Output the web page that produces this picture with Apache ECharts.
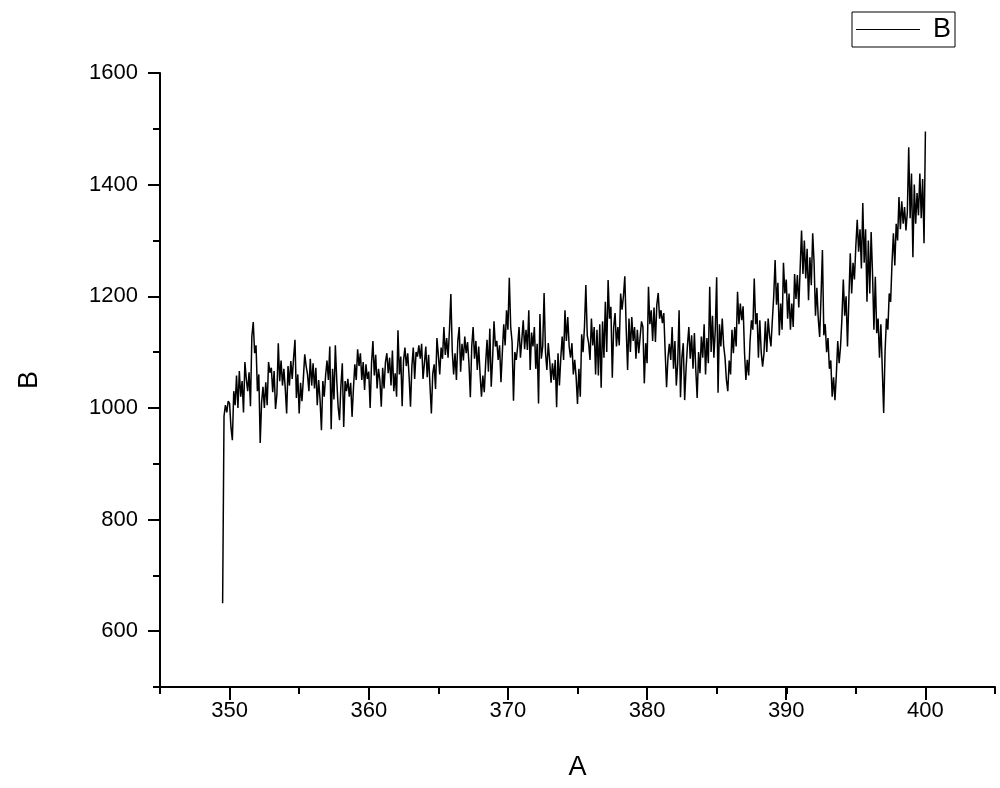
<!DOCTYPE html>
<html>
<head>
<meta charset="utf-8">
<script src="https://cdn.jsdelivr.net/npm/echarts@6/dist/echarts.min.js"></script>
<style>
html,body{margin:0;padding:0;background:#fff;}
#chart{width:1000px;height:788px;}
</style>
</head>
<body>
<div id="chart"></div>
<script>
// Sampling grid of the spectrum (A) and readings (B)
const xStart = 349.5;
const xStep = 0.1;
const seriesName = 'B';
const xName = 'A';
const yName = 'B';
const xTickLabels = [350, 360, 370, 380, 390, 400];
const yTickLabels = [600, 800, 1000, 1200, 1400, 1600];

const bValues = [
  // 349.5 - 349.9
  650, 985, 1005, 992, 1012,
  // 350
  1008, 965, 942, 1030, 1005, 1058, 1000, 1066, 1020, 1048,
  // 351
  992, 1082, 1052, 1030, 1064, 1003, 1128, 1154, 1098, 1112,
  // 352
  1030, 1060, 937, 1010, 1038, 1000, 1046, 1005, 1082, 1063,
  // 353
  1072, 1028, 1066, 998, 1024, 1116, 1048, 1085, 1040, 1070,
  // 354
  1035, 990, 1075, 1040, 1084, 1052, 1090, 1122, 1018, 1060,
  // 355
  990, 1045, 1012, 1052, 1096, 1075, 1060, 1030, 1088, 1040,
  // 356
  1080, 1035, 1072, 1005, 1050, 1015, 960, 1048, 1020, 1058,
  // 357
  1085, 1050, 1110, 962, 1070, 1015, 1112, 1050, 1002, 978,
  // 358
  1040, 1080, 966, 1048, 1030, 1052, 1020, 1045, 984, 1035,
  // 359
  1078, 1050, 1105, 1075, 1098, 1050, 1082, 1032, 1078, 1052,
  // 360
  1065, 1000, 1080, 1120, 1058, 1095, 1035, 1070, 1050, 1002,
  // 361
  1072, 1035, 1082, 1098, 1062, 1090, 1040, 1103, 1030, 1062,
  // 362
  1020, 1139, 1060, 1092, 1003, 1085, 1108, 1075, 1098, 1056,
  // 363
  1002, 1075, 1108, 1052, 1100, 1092, 1112, 1088, 1115, 1052,
  // 364
  1080, 1110, 1055, 1095, 1040, 990, 1062, 1078, 1034, 1125,
  // 365
  1095, 1060, 1108, 1088, 1145, 1095, 1125, 1090, 1140, 1204,
  // 366
  1102, 1060, 1098, 1050, 1120, 1145, 1065, 1115, 1085, 1128,
  // 367
  1098, 1118, 1080, 1019, 1110, 1145, 1088, 1120, 1068, 1110,
  // 368
  1060, 1020, 1058, 1028, 1080, 1122, 1065, 1142, 1038, 1088,
  // 369
  1155, 1110, 1120, 1086, 1112, 1046, 1100, 1150, 1112, 1175,
  // 370
  1140, 1233, 1145, 1118, 1013, 1100, 1086, 1110, 1145, 1090,
  // 371
  1122, 1157, 1105, 1140, 1104, 1175, 1068, 1135, 1110, 1145,
  // 372
  1070, 1115, 1008, 1168, 1088, 1110, 1206, 1100, 1068, 1116,
  // 373
  1085, 1045, 1080, 1050, 1086, 1001, 1098, 1040, 1090, 1128,
  // 374
  1086, 1175, 1120, 1163, 1110, 1090, 1116, 1060, 1086, 1056,
  // 375
  1007, 1070, 1020, 1132, 1100, 1145, 1220, 1130, 1116, 1086,
  // 376
  1160, 1112, 1145, 1060, 1140, 1058, 1150, 1036, 1155, 1090,
  // 377
  1190, 1100, 1229, 1160, 1181, 1054, 1145, 1170, 1110, 1145,
  // 378
  1112, 1205, 1176, 1200, 1236, 1142, 1068, 1160, 1100, 1163,
  // 379
  1120, 1145, 1088, 1140, 1098, 1127, 1155, 1145, 1044, 1116,
  // 380
  1080, 1217, 1150, 1175, 1120, 1180, 1118, 1185, 1206, 1160,
  // 381
  1175, 1152, 1170, 1100, 1037, 1090, 1115, 1086, 1145, 1070,
  // 382
  1120, 1040, 1080, 1175, 1019, 1090, 1116, 1014, 1070, 1112,
  // 383
  1145, 1088, 1130, 1070, 1134, 1068, 1018, 1100, 1062, 1128,
  // 384
  1090, 1150, 1060, 1125, 1080, 1217, 1100, 1165, 1090, 1140,
  // 385
  1234, 1027, 1150, 1110, 1160, 1112, 1090, 1050, 1030, 1085,
  // 386
  1060, 1140, 1098, 1145, 1110, 1208, 1150, 1187, 1157, 1182,
  // 387
  1100, 1050, 1086, 1058, 1120, 1157, 1140, 1232, 1150, 1170,
  // 388
  1090, 1157, 1100, 1074, 1098, 1155, 1100, 1160, 1130, 1110,
  // 389
  1157, 1200, 1265, 1185, 1224, 1130, 1187, 1140, 1260, 1205,
  // 390
  1230, 1160, 1205, 1140, 1187, 1145, 1240, 1195, 1238, 1180,
  // 391
  1250, 1318, 1240, 1300, 1232, 1285, 1193, 1270, 1220, 1313,
  // 392
  1260, 1165, 1215, 1160, 1127, 1200, 1283, 1130, 1150, 1100,
  // 393
  1125, 1070, 1085, 1020, 1055, 1014, 1060, 1120, 1080, 1110,
  // 394
  1160, 1230, 1165, 1200, 1110, 1195, 1277, 1205, 1260, 1230,
  // 395
  1290, 1337, 1280, 1320, 1250, 1367, 1260, 1320, 1190, 1300,
  // 396
  1205, 1315, 1240, 1140, 1235, 1134, 1160, 1090, 1150, 1070,
  // 397
  991, 1100, 1160, 1140, 1205, 1190, 1260, 1313, 1255, 1330,
  // 398
  1300, 1378, 1320, 1370, 1330, 1360, 1318, 1350, 1467, 1340,
  // 399
  1420, 1270, 1400, 1330, 1385, 1345, 1420, 1340, 1410, 1295,
  // 400
  1495
];

const seriesData = bValues.map((v, i) => [+(xStart + i * xStep).toFixed(2), v]);

const chart = echarts.init(document.getElementById('chart'), null, {renderer: 'canvas'});
const font = 'Liberation Sans, Arial, sans-serif';
const black = '#000';
const plain = v => String(v);

chart.setOption({
  animation: false,
  backgroundColor: '#fff',
  legend: {
    data: [seriesName],
    left: 852,
    top: 12,
    orient: 'horizontal',
    borderColor: black,
    borderWidth: 1,
    padding: [4, 4, 4, 4],
    icon: 'rect',
    itemWidth: 64,
    itemHeight: 1.2,
    itemGap: 0,
    itemStyle: {color: black},
    textStyle: {fontFamily: font, fontSize: 27, color: black, padding: [0, 0, 0, 8]}
  },
  grid: [
    {left: 160, right: 5, top: 73, bottom: 101, outerBoundsMode: 'none', containLabel: false},
    {left: 229.6, right: 74.6, top: 73, bottom: 156.8, outerBoundsMode: 'none', containLabel: false}
  ],
  xAxis: [
    {
      type: 'value', gridIndex: 0, min: 345, max: 405, interval: 5,
      name: xName, nameLocation: 'middle', nameGap: 67,
      nameTextStyle: {fontFamily: font, fontSize: 27, color: black},
      axisLine: {show: true, lineStyle: {color: black, width: 2}},
      axisTick: {show: true, length: 7, inside: false, lineStyle: {color: black, width: 2}},
      axisLabel: {show: false},
      splitLine: {show: false}
    },
    {
      type: 'value', gridIndex: 1, min: xTickLabels[0], max: xTickLabels[xTickLabels.length - 1], interval: 10,
      offset: 55.8,
      axisLine: {show: false},
      axisTick: {show: true, length: 13, lineStyle: {color: black, width: 2}},
      axisLabel: {show: true, margin: 13, fontFamily: font, fontSize: 22, color: black, formatter: plain},
      splitLine: {show: false}
    }
  ],
  yAxis: [
    {
      type: 'value', gridIndex: 0, min: 500, max: 1600, interval: 100,
      name: yName, nameLocation: 'middle', nameGap: 117, nameRotate: 90,
      nameTextStyle: {fontFamily: font, fontSize: 27, color: black},
      axisLine: {show: true, lineStyle: {color: black, width: 2}},
      axisTick: {show: true, length: 7, lineStyle: {color: black, width: 2}},
      axisLabel: {show: false},
      splitLine: {show: false}
    },
    {
      type: 'value', gridIndex: 1, min: yTickLabels[0], max: yTickLabels[yTickLabels.length - 1], interval: 200,
      offset: 69.6,
      axisLine: {show: false},
      axisTick: {show: true, length: 12, lineStyle: {color: black, width: 2}},
      axisLabel: {show: true, margin: 22, fontFamily: font, fontSize: 22, color: black, formatter: plain},
      splitLine: {show: false}
    }
  ],
  series: [
    {
      name: seriesName,
      type: 'line',
      xAxisIndex: 0,
      yAxisIndex: 0,
      data: seriesData,
      showSymbol: false,
      symbol: 'none',
      sampling: null,
      lineStyle: {color: black, width: 1.5},
      itemStyle: {color: black},
      emphasis: {disabled: true}
    }
  ]
});
</script>
</body>
</html>
